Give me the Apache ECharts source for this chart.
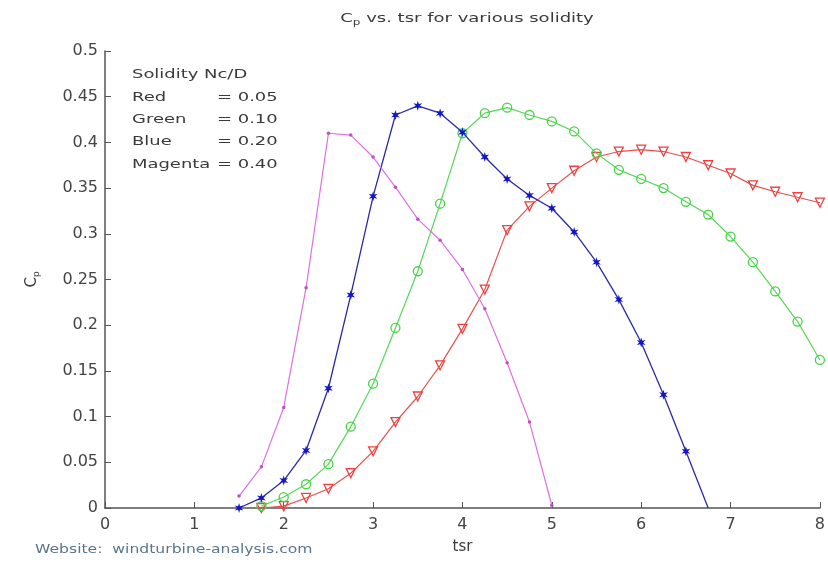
<!DOCTYPE html>
<html>
<head>
<meta charset="utf-8">
<script src="https://cdn.jsdelivr.net/npm/echarts@6/dist/echarts.min.js"></script>
<style>
html,body{margin:0;padding:0;background:#fff;}
#chart{width:828px;height:571px;}
</style>
</head>
<body>
<div id="chart"></div>
<script>
// ---- data ----
var redTsr = [1.75, 2.0, 2.25, 2.5, 2.75, 3.0, 3.25, 3.5, 3.75, 4.0, 4.25, 4.5, 4.75, 5.0, 5.25, 5.5, 5.75, 6.0, 6.25, 6.5, 6.75, 7.0, 7.25, 7.5, 7.75, 8.0];
var redCp  = [0.000, 0.002, 0.011, 0.021, 0.038, 0.062, 0.094, 0.122, 0.156, 0.196, 0.239, 0.304, 0.330, 0.350, 0.369, 0.384, 0.390, 0.392, 0.390, 0.384, 0.375, 0.366, 0.353, 0.346, 0.340, 0.334];

var greenTsr = [1.75, 2.0, 2.25, 2.5, 2.75, 3.0, 3.25, 3.5, 3.75, 4.0, 4.25, 4.5, 4.75, 5.0, 5.25, 5.5, 5.75, 6.0, 6.25, 6.5, 6.75, 7.0, 7.25, 7.5, 7.75, 8.0];
var greenCp  = [0.002, 0.012, 0.026, 0.048, 0.089, 0.136, 0.197, 0.259, 0.333, 0.410, 0.432, 0.438, 0.430, 0.423, 0.412, 0.388, 0.370, 0.360, 0.350, 0.335, 0.321, 0.297, 0.269, 0.237, 0.204, 0.162];

var blueTsr = [1.5, 1.75, 2.0, 2.25, 2.5, 2.75, 3.0, 3.25, 3.5, 3.75, 4.0, 4.25, 4.5, 4.75, 5.0, 5.25, 5.5, 5.75, 6.0, 6.25, 6.5, 6.75];
var blueCp  = [0.000, 0.011, 0.030, 0.063, 0.131, 0.233, 0.341, 0.430, 0.440, 0.432, 0.411, 0.384, 0.360, 0.342, 0.328, 0.302, 0.269, 0.228, 0.181, 0.124, 0.062, 0.000];

var magentaTsr = [1.5, 1.75, 2.0, 2.25, 2.5, 2.75, 3.0, 3.25, 3.5, 3.75, 4.0, 4.25, 4.5, 4.75, 5.0];
var magentaCp  = [0.013, 0.045, 0.110, 0.241, 0.410, 0.408, 0.384, 0.351, 0.316, 0.293, 0.261, 0.218, 0.159, 0.094, 0.003];

var xTicks = [0, 1, 2, 3, 4, 5, 6, 7, 8];
var yTicks = [0, 0.05, 0.1, 0.15, 0.2, 0.25, 0.3, 0.35, 0.4, 0.45, 0.5];

var legendTitle  = 'Solidity Nc/D';
var legendNames  = ['Red', 'Green', 'Blue', 'Magenta'];
var legendValues = ['= 0.05', '= 0.10', '= 0.20', '= 0.40'];

function pairs(xs, ys) {
  var out = [];
  for (var i = 0; i < xs.length; i++) out.push([xs[i], ys[i]]);
  return out;
}

var FONT = 'DejaVu Sans';
var TXT = '#3a3a3a';
var starPath = 'path://M100 0 L120 65.4 L186.6 50 L140 100 L186.6 150 L120 134.6 L100 200 L80 134.6 L13.4 150 L60 100 L13.4 50 L80 65.4 Z';

var blueData = pairs(blueTsr, blueCp);
blueData[blueData.length - 1] = { value: blueData[blueData.length - 1], symbol: 'none' };

var graphics = [
  {
    type: 'text', x: 467, y: 19, scaleX: 1.5,
    style: {
      text: '{a|C}{s|p}{a| vs. tsr for various solidity}',
      textAlign: 'center', textVerticalAlign: 'middle',
      rich: {
        a: { fontFamily: FONT, fontSize: 12, fill: TXT },
        s: { fontFamily: FONT, fontSize: 8, fill: TXT, padding: [8, 0, 0, 0] }
      }
    }
  },
  {
    type: 'text', x: 132, y: 75, scaleX: 1.38,
    style: { text: legendTitle, fontFamily: FONT, fontSize: 13, fill: TXT, textVerticalAlign: 'middle' }
  },
  {
    type: 'text', x: 35, y: 550, scaleX: 1.2,
    style: { text: 'Website:  windturbine-analysis.com', fontFamily: FONT, fontSize: 13, fill: '#5a7590', textVerticalAlign: 'middle' }
  }
];
for (var i = 0; i < legendNames.length; i++) {
  graphics.push({
    type: 'text', x: 132, y: 97.3 + i * 22.3, scaleX: 1.38,
    style: { text: legendNames[i], fontFamily: FONT, fontSize: 13, fill: TXT, textVerticalAlign: 'middle' }
  });
  graphics.push({
    type: 'text', x: 217, y: 97.3 + i * 22.3, scaleX: 1.38,
    style: { text: legendValues[i], fontFamily: FONT, fontSize: 13, fill: TXT, textVerticalAlign: 'middle' }
  });
}

var chart = echarts.init(document.getElementById('chart'), null, { renderer: 'canvas' });
chart.setOption({
  backgroundColor: '#ffffff',
  animation: false,
  grid: { left: 105, right: 0, top: 51, bottom: 63, containLabel: false },
  xAxis: {
    type: 'value', min: 0, max: 8, interval: 1,
    name: 'tsr', nameLocation: 'middle', nameGap: 32,
    nameTextStyle: { fontFamily: FONT, fontSize: 15, color: TXT },
    axisLine: { onZero: false, lineStyle: { color: '#555', width: 1.5 } },
    axisTick: { inside: true, length: 6, lineStyle: { color: '#555' } },
    axisLabel: {
      fontFamily: FONT, fontSize: 16, color: '#444', margin: 9,
      formatter: function (v) { return xTicks.indexOf(v) >= 0 ? String(v) : ''; }
    },
    splitLine: { show: false }
  },
  yAxis: {
    type: 'value', min: 0, max: 0.5, interval: 0.05,
    name: '{a|C}{s|p}', nameLocation: 'middle', nameGap: 64, nameRotate: 90,
    nameTextStyle: {
      rich: {
        a: { fontFamily: FONT, fontSize: 15, color: TXT },
        s: { fontFamily: FONT, fontSize: 9, color: TXT, padding: [8, 0, 0, 0] }
      }
    },
    axisLine: { show: true, lineStyle: { color: '#555', width: 1.5 } },
    axisTick: { show: true, inside: true, length: 6, lineStyle: { color: '#555' } },
    axisLabel: {
      fontFamily: FONT, fontSize: 16, color: '#444', margin: 7,
      formatter: function (v) {
        for (var k = 0; k < yTicks.length; k++) if (Math.abs(yTicks[k] - v) < 1e-9) return String(yTicks[k]);
        return '';
      }
    },
    splitLine: { show: false }
  },
  graphic: graphics,
  series: [
    {
      type: 'line', name: 'Red', data: pairs(redTsr, redCp),
      symbol: 'triangle', symbolRotate: 180, symbolSize: 9,
      lineStyle: { color: '#e8504a', width: 1.2 },
      itemStyle: { color: 'rgba(255,255,255,0)', borderColor: '#f04040', borderWidth: 1.3 },
      z: 2
    },
    {
      type: 'line', name: 'Green', data: pairs(greenTsr, greenCp),
      symbol: 'circle', symbolSize: 9,
      lineStyle: { color: '#55d855', width: 1.2 },
      itemStyle: { color: 'rgba(255,255,255,0)', borderColor: '#44d444', borderWidth: 1.3 },
      z: 3
    },
    {
      type: 'line', name: 'Blue', data: blueData,
      symbol: starPath, symbolSize: 10, symbolKeepAspect: true,
      lineStyle: { color: '#2a2aa8', width: 1.3 },
      itemStyle: { color: '#1515c8' },
      z: 4
    },
    {
      type: 'line', name: 'Magenta', data: pairs(magentaTsr, magentaCp),
      symbol: 'circle', symbolSize: 3.5,
      lineStyle: { color: '#e070e0', width: 1.2 },
      itemStyle: { color: '#c050c0' },
      z: 5
    }
  ]
});
</script>
</body>
</html>
